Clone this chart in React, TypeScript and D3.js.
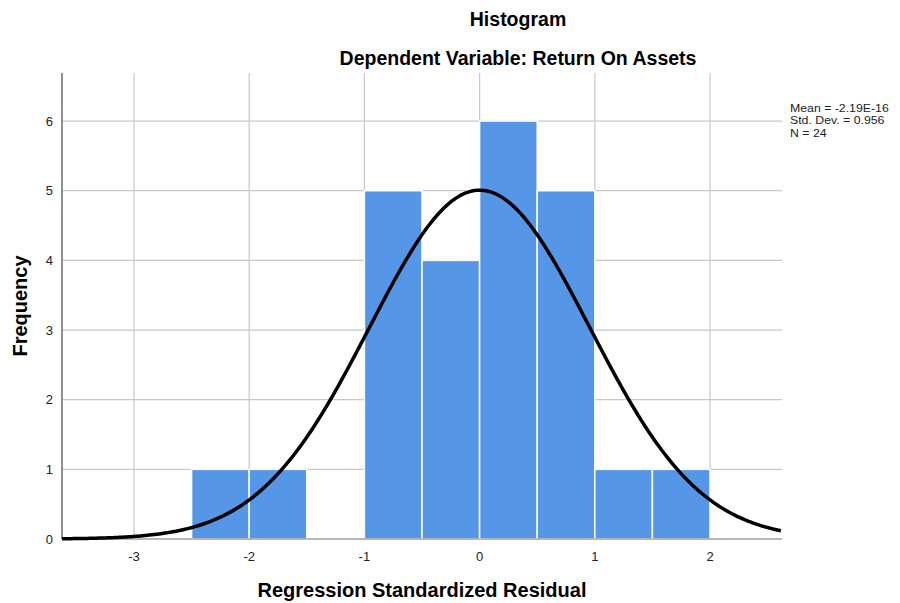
import React, { useRef, useEffect } from "react";
import * as d3 from "d3";

// histogram bins (lower edge, upper edge, count)
const binStarts = [-2.5, -2.0, -1.0, -0.5, 0.0, 0.5, 1.0, 1.5];
const binWidth = 0.5;
const binCounts = [1, 1, 5, 4, 6, 5, 1, 1];

const xTicks = [-3, -2, -1, 0, 1, 2];
const yTicks = [0, 1, 2, 3, 4, 5, 6];

// summary statistics shown in the legend box
const stats = { mean: -2.19e-16, sd: 0.956, n: 24 };
const statLabels = ["Mean = -2.19E-16", "Std. Dev. = 0.956", "N = 24"];

const App = () => {
  const svgRef = useRef<SVGSVGElement>(null);

  useEffect(() => {
    const svg = d3.select(svgRef.current);
    svg.selectAll("*").remove();

    const width = 900;
    const height = 603;
    const margin = { top: 73, right: 118, bottom: 64, left: 62 };
    const font = "'Liberation Sans', Arial, sans-serif";

    const x = d3
      .scaleLinear()
      .domain([-3.625, 2.625])
      .range([margin.left, width - margin.right]);

    const y = d3
      .scaleLinear()
      .domain([0, 6.69])
      .range([height - margin.bottom, margin.top]);

    svg.append("rect").attr("width", width).attr("height", height).attr("fill", "#fff");

    // grid
    const grid = svg.append("g").attr("stroke", "#c8c8c8").attr("stroke-width", 1.2);
    grid
      .selectAll("line.v")
      .data(xTicks)
      .enter()
      .append("line")
      .attr("x1", (d) => x(d))
      .attr("x2", (d) => x(d))
      .attr("y1", y.range()[1])
      .attr("y2", y(0));
    grid
      .selectAll("line.h")
      .data(yTicks.slice(1))
      .enter()
      .append("line")
      .attr("x1", x.range()[0])
      .attr("x2", x.range()[1])
      .attr("y1", (d) => y(d))
      .attr("y2", (d) => y(d));

    // bars
    svg
      .append("g")
      .selectAll("rect")
      .data(binStarts)
      .enter()
      .append("rect")
      .attr("x", (d) => x(d))
      .attr("width", x(binWidth) - x(0))
      .attr("y", (d, i) => y(binCounts[i]))
      .attr("height", (d, i) => y(0) - y(binCounts[i]))
      .attr("fill", "#5596e6")
      .attr("stroke", "#fff")
      .attr("stroke-width", 1.5);

    // axes lines
    svg
      .append("line")
      .attr("x1", x.range()[0])
      .attr("x2", x.range()[1])
      .attr("y1", y(0))
      .attr("y2", y(0))
      .attr("stroke", "#a0a0a0")
      .attr("stroke-width", 1.5);
    svg
      .append("line")
      .attr("x1", x.range()[0])
      .attr("x2", x.range()[0])
      .attr("y1", y.range()[1])
      .attr("y2", y(0))
      .attr("stroke", "#909090")
      .attr("stroke-width", 2);

    // normal curve
    const scale = stats.n * binWidth;
    const density = (v: number) =>
      (scale / (stats.sd * Math.sqrt(2 * Math.PI))) *
      Math.exp(-0.5 * ((v - stats.mean) / stats.sd) ** 2);
    const curveXs = d3.range(x.domain()[0], x.domain()[1] + 0.001, 0.02);
    svg
      .append("path")
      .datum(curveXs)
      .attr("fill", "none")
      .attr("stroke", "#000")
      .attr("stroke-width", 3.5)
      .attr(
        "d",
        d3
          .line<number>()
          .x((d) => x(d))
          .y((d) => y(density(d)))
      );

    // tick labels
    svg
      .append("g")
      .selectAll("text")
      .data(xTicks)
      .enter()
      .append("text")
      .attr("x", (d) => x(d))
      .attr("y", y(0) + 22)
      .attr("text-anchor", "middle")
      .attr("font-family", font)
      .attr("font-size", 13)
      .attr("fill", "#222")
      .text((d) => d);

    svg
      .append("g")
      .selectAll("text")
      .data(yTicks)
      .enter()
      .append("text")
      .attr("x", x.range()[0] - 9)
      .attr("y", (d) => y(d) + 4.5)
      .attr("text-anchor", "end")
      .attr("font-family", font)
      .attr("font-size", 13)
      .attr("fill", "#222")
      .text((d) => d);

    // titles
    svg
      .append("text")
      .attr("x", 518)
      .attr("y", 26)
      .attr("text-anchor", "middle")
      .attr("font-family", font)
      .attr("font-size", 19.5)
      .attr("font-weight", "bold")
      .text("Histogram");
    svg
      .append("text")
      .attr("x", 518)
      .attr("y", 65)
      .attr("text-anchor", "middle")
      .attr("font-family", font)
      .attr("font-size", 19.5)
      .attr("font-weight", "bold")
      .text("Dependent Variable: Return On Assets");

    svg
      .append("text")
      .attr("x", 422)
      .attr("y", 597)
      .attr("text-anchor", "middle")
      .attr("font-family", font)
      .attr("font-size", 20)
      .attr("font-weight", "bold")
      .text("Regression Standardized Residual");

    svg
      .append("text")
      .attr("transform", `translate(27,${(y.range()[0] + y.range()[1]) / 2}) rotate(-90)`)
      .attr("text-anchor", "middle")
      .attr("font-family", font)
      .attr("font-size", 20)
      .attr("font-weight", "bold")
      .text("Frequency");

    // stats box
    svg
      .append("g")
      .attr("transform", "translate(790,0) scale(1.12,1)")
      .selectAll("text")
      .data(statLabels)
      .enter()
      .append("text")
      .attr("x", 0)
      .attr("y", (d, i) => 112 + i * 12.5)
      .attr("font-family", font)
      .attr("font-size", 11)
      .attr("fill", "#222")
      .text((d) => d);
  }, []);

  return (
    <svg
      ref={svgRef}
      width={900}
      height={603}
      style={{ position: "absolute", left: 0, top: 0, display: "block" }}
    ></svg>
  );
};

export default App;
